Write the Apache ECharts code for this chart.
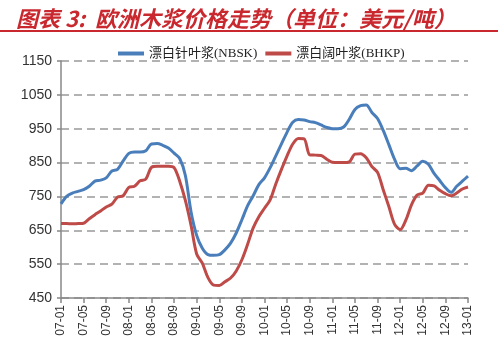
<!DOCTYPE html>
<html>
<head>
<meta charset="utf-8">
<script src="https://cdn.jsdelivr.net/npm/echarts@6/dist/echarts.min.js"></script>
<style>
  html, body { margin: 0; padding: 0; background: #fff; }
  #chart { width: 498px; height: 349px; }
</style>
</head>
<body>
<div id="chart"></div>
<script>
// Monthly categories, Jan 2007 – Jan 2013
const months = [
  '07-01','07-02','07-03','07-04','07-05','07-06','07-07','07-08','07-09','07-10','07-11','07-12',
  '08-01','08-02','08-03','08-04','08-05','08-06','08-07','08-08','08-09','08-10','08-11','08-12',
  '09-01','09-02','09-03','09-04','09-05','09-06','09-07','09-08','09-09','09-10','09-11','09-12',
  '10-01','10-02','10-03','10-04','10-05','10-06','10-07','10-08','10-09','10-10','10-11','10-12',
  '11-01','11-02','11-03','11-04','11-05','11-06','11-07','11-08','11-09','11-10','11-11','11-12',
  '12-01','12-02','12-03','12-04','12-05','12-06','12-07','12-08','12-09','12-10','12-11','12-12',
  '13-01'
];

// 漂白针叶浆 NBSK, USD/ton
const nbsk = [
  728, 750, 760, 765, 770, 780, 795, 798, 805, 825, 830, 855,
  877, 881, 881, 885, 905, 906, 901, 893, 878, 862, 812, 705,
  635, 597, 578, 576, 578, 592, 612, 642, 681, 722, 752, 785,
  805, 835, 870, 905, 940, 969, 977, 976, 971, 968, 961, 954,
  950, 950, 955, 978, 1007, 1018, 1020, 998, 980, 945, 903, 860,
  832, 833, 826, 840, 854, 845, 818, 797, 776, 762, 780, 795,
  810
];

// 漂白阔叶浆 BHKP, USD/ton
const bhkp = [
  670, 670, 669, 670, 671, 684, 696, 707, 719, 727, 748, 752,
  777, 780, 796, 801, 836, 839, 839, 839, 835, 795, 738, 665,
  580, 553, 510, 488, 487, 498, 509, 530, 563, 608, 657, 690,
  715, 740, 787, 830, 870, 905, 921, 920, 873, 872, 871, 860,
  851, 850, 850, 852, 875, 876, 864, 838, 821, 770, 720, 668,
  652, 680, 725, 754, 760, 783, 781, 768, 758, 752, 760, 772,
  778
];

const seriesNames = ['漂白针叶浆(NBSK)', '漂白阔叶浆(BHKP)'];
const colors = ['#4A7EBB', '#BE4B48'];

const chart = echarts.init(document.getElementById('chart'), null, { renderer: 'canvas' });

chart.setOption({
  animation: false,
  backgroundColor: '#fff',
  title: {
    text: '图表 3:  欧洲木浆价格走势（单位：美元/吨）',
    left: 11,
    top: 3,
    textStyle: {
      color: '#C8282E',
      fontSize: 22,
      fontStyle: 'italic',
      fontWeight: 'bold',
      fontFamily: "'Noto Sans CJK SC', sans-serif"
    }
  },
  graphic: [
    {
      type: 'rect',
      shape: { x: 0, y: 30, width: 498, height: 2 },
      style: { fill: '#C8282E' },
      silent: true
    }
  ],
  legend: {
    top: 42,
    left: 113,
    itemGap: 8,
    itemWidth: 26,
    itemHeight: 4,
    icon: 'rect',
    textStyle: {
      fontSize: 13,
      color: '#222',
      fontFamily: "'Liberation Serif', 'Noto Sans CJK SC', serif"
    },
    data: seriesNames
  },
  grid: {
    left: 61,
    right: 30,
    top: 61,
    bottom: 51,
    containLabel: false
  },
  xAxis: {
    type: 'category',
    data: months,
    boundaryGap: false,
    axisLine: { lineStyle: { color: '#888', width: 1.5 } },
    axisTick: {
      show: true,
      interval: 3,
      length: 5,
      lineStyle: { color: '#888', width: 1.5 }
    },
    axisLabel: {
      interval: 3,
      rotate: 90,
      color: '#333',
      fontSize: 12,
      margin: 7,
      fontFamily: "Arial, 'Liberation Sans', sans-serif"
    },
    splitLine: { show: false }
  },
  yAxis: {
    type: 'value',
    min: 450,
    max: 1150,
    interval: 100,
    axisLine: { show: true, lineStyle: { color: '#888', width: 1.5 } },
    axisTick: { show: true, length: 4, lineStyle: { color: '#888', width: 1.5 } },
    axisLabel: {
      color: '#333',
      fontSize: 14,
      margin: 9,
      formatter: (v) => String(v),
      fontFamily: "Arial, 'Liberation Sans', sans-serif"
    },
    splitLine: {
      show: true,
      lineStyle: { color: '#999', width: 1.5, type: [8, 5] }
    }
  },
  series: [
    {
      name: seriesNames[0],
      type: 'line',
      data: nbsk,
      showSymbol: false,
      smooth: 0.3,
      lineStyle: { color: colors[0], width: 3 },
      itemStyle: { color: colors[0] },
      z: 3
    },
    {
      name: seriesNames[1],
      type: 'line',
      data: bhkp,
      showSymbol: false,
      smooth: 0.3,
      lineStyle: { color: colors[1], width: 3 },
      itemStyle: { color: colors[1] },
      z: 2
    }
  ]
});
</script>
</body>
</html>
